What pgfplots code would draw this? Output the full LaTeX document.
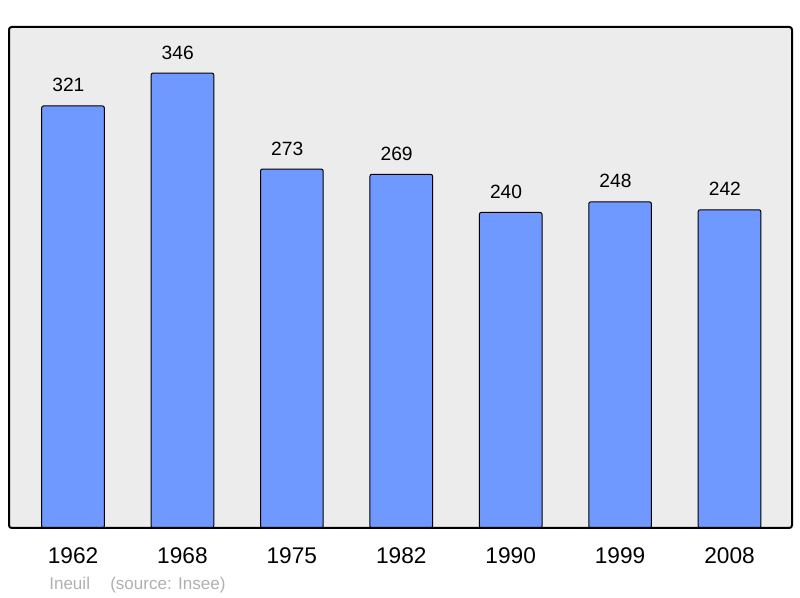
\documentclass[border=0pt]{standalone}
\usepackage{pgfplots}
\pgfplotsset{compat=1.18}
\usepackage{fontspec}
\setmainfont{Liberation Sans}
\definecolor{barblue}{RGB}{112,153,255}
\definecolor{bggray}{RGB}{236,236,236}
\definecolor{footgray}{RGB}{176,176,176}
\begin{document}
\begin{tikzpicture}
\useasboundingbox (0,0) rectangle (600pt,448.5pt);
\begin{axis}[
    at={(6.75pt,52.5pt)}, anchor=south west,
    scale only axis,
    width=587.25pt, height=375.75pt,
    xmin=-0.585, xmax=6.571,
    ymin=0, ymax=381,
    axis line style={draw=none},
    axis background/.style={fill=bggray},
    ytick=\empty,
    xtick={0,1,2,3,4,5,6},
    xticklabels={1962,1968,1975,1982,1990,1999,2008},
    major tick length=0pt,
    xticklabel style={font=\fontsize{17}{20}\selectfont, anchor=base, yshift=-27pt},
    /pgf/number format/assume math mode=true,
    nodes near coords,
    nodes near coords style={font=\fontsize{14.4}{17}\selectfont, anchor=base, inner sep=0pt, yshift=10.5pt, xshift=-3.5pt},
    after end axis/.code={
        \draw[line width=1.5pt, rounded corners=2pt] (rel axis cs:0,0) rectangle (rel axis cs:1,1);
    },
]
\addplot[ybar, bar width=47pt, fill=barblue, draw=black, line width=0.75pt, rounded corners=1.5pt]
    coordinates {(0,321) (1,346) (2,273) (3,269) (4,240) (5,248) (6,242)};
\end{axis}
\node[anchor=base west, inner sep=0pt, text=footgray, font=\fontsize{12.8}{15}\selectfont] at (36.75pt,6pt) {Ineuil};
\node[anchor=base west, inner sep=0pt, text=footgray, font=\fontsize{12.8}{15}\selectfont] at (82.5pt,6pt) {(source: Insee)};
\end{tikzpicture}
\end{document}
